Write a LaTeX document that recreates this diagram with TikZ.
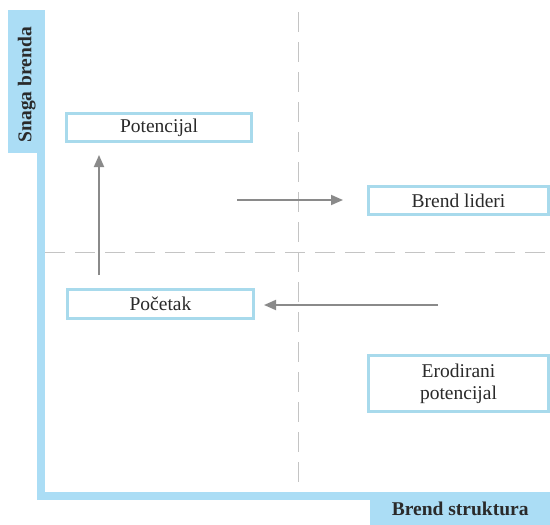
\documentclass[tikz,border=0pt]{standalone}
\usepackage{fontspec}
\setmainfont{Liberation Serif}
\usetikzlibrary{arrows.meta}
\definecolor{axisblue}{HTML}{ABDDF5}
\definecolor{boxblue}{HTML}{A8DAEC}
\definecolor{arrgray}{HTML}{8A8A8A}
\definecolor{dashgray}{HTML}{C4C4C4}
\definecolor{txt}{HTML}{2A2A2A}
\tikzset{
  qbox/.style={draw=boxblue, line width=3pt, fill=white, inner sep=0pt,
    font=\fontsize{19.5}{22}\selectfont, text=txt, align=center},
  axlabel/.style={fill=axisblue, inner sep=0pt, font=\bfseries\fontsize{19.5}{22}\selectfont, text=txt},
  arr/.style={draw=arrgray, line width=1.8pt, -{Triangle[length=12pt,width=10pt]}},
  divider/.style={draw=dashgray, line width=1pt, dash pattern=on 20pt off 10pt},
}
\begin{document}
\begin{tikzpicture}[x=1pt,y=-1pt]
\useasboundingbox (0,0) rectangle (550,525);
% dashed quadrant dividers
\draw[divider] (298,12) -- (298,492);
\draw[divider] (45,252) -- (550,252);
% axes
\fill[axisblue] (37,10) rectangle (45,500);
\fill[axisblue] (37,492) rectangle (550,500);
\node[axlabel, minimum width=37pt, minimum height=143pt, anchor=north west] (ylab) at (8,10) {};
\node[axlabel, rotate=90] (ylabt) at ([yshift=-3pt]ylab.center) {Snaga brenda};
\node[axlabel, minimum width=180pt, minimum height=33pt, anchor=north west] (xlab) at (370,492) {Brend struktura};
% boxes
\node[qbox, minimum width=185pt, minimum height=28pt] (pot) at (159,127.5) {Potencijal};
\node[qbox, minimum width=180pt, minimum height=28pt] (lid) at (458.5,200.5) {Brend lideri};
\node[qbox, minimum width=186pt, minimum height=29pt] (poc) at (160.5,304) {Početak};
\node[qbox, minimum width=180pt, minimum height=56pt] (ero) at (458.5,383.5) {Erodirani\\potencijal};
% arrows
\coordinate (u1) at (99,275);
\coordinate (u2) at (99,155);
\coordinate (r1) at (237,200);
\coordinate (r2) at (343,200);
\coordinate (l1) at (438,305);
\coordinate (l2) at (264,305);
\draw[arr] (u1) -- (u2);
\draw[arr] (r1) -- (r2);
\draw[arr] (l1) -- (l2);
\end{tikzpicture}
\end{document}
